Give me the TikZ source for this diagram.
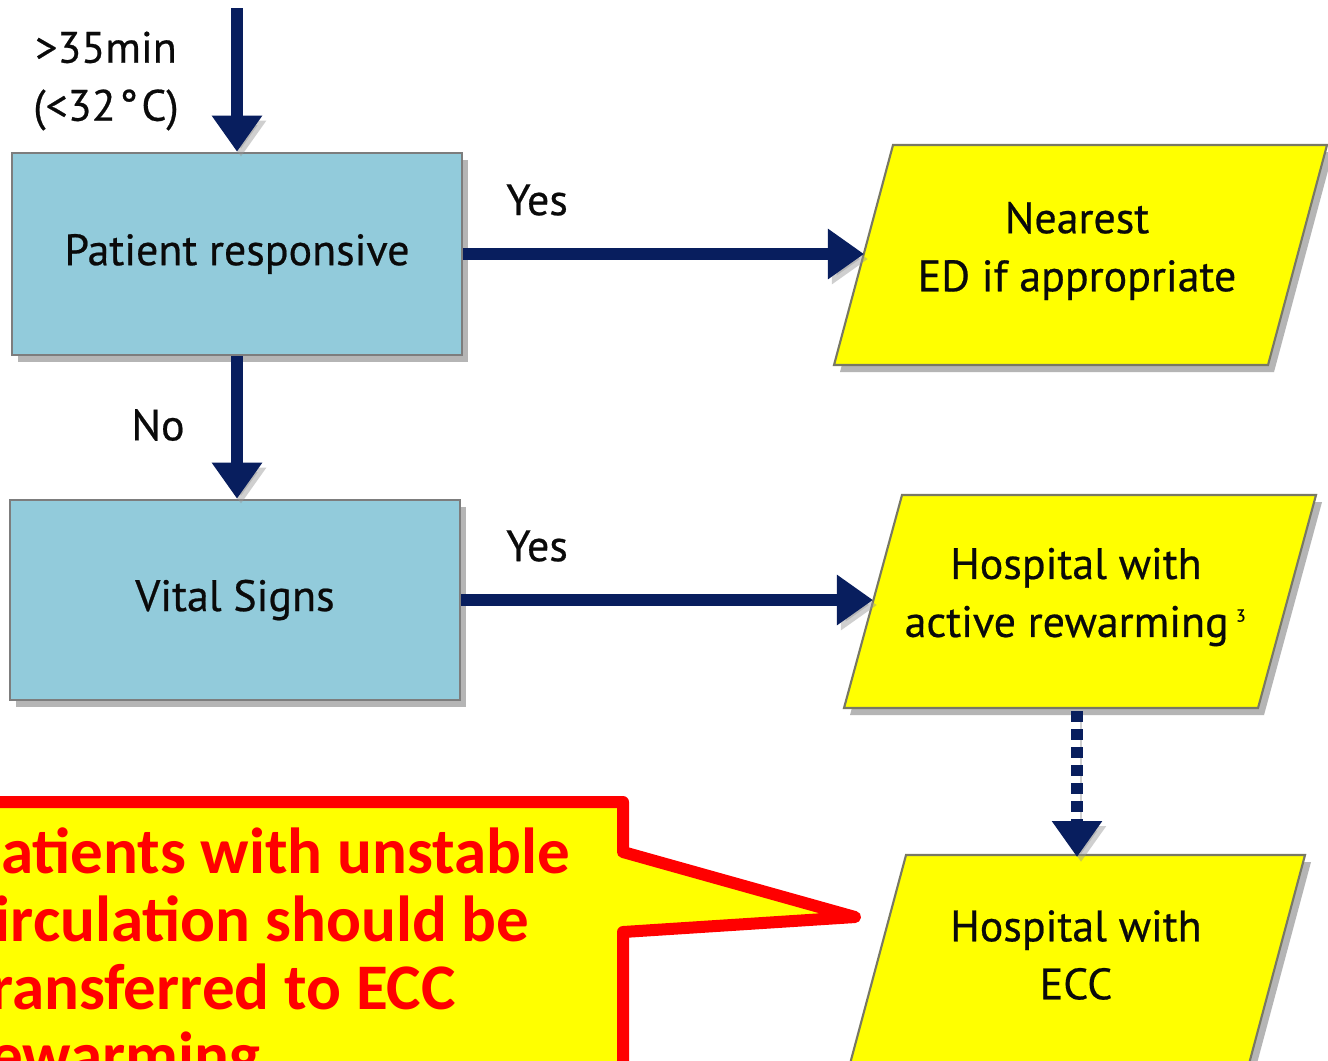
\documentclass[tikz,border=0pt]{standalone}
\usepackage{fontspec}
\setmainfont{PT Sans}[FakeBold=0.5]
\newfontfamily\calloutfont{Carlito}
\usetikzlibrary{arrows.meta,shadows}
\definecolor{navy}{RGB}{8,30,94}
\definecolor{boxblue}{RGB}{146,203,219}
\definecolor{boxline}{RGB}{125,125,125}
\definecolor{yel}{RGB}{255,255,0}
\definecolor{paraline}{RGB}{120,120,100}
\definecolor{shadowc}{RGB}{150,150,150}
\definecolor{txt}{RGB}{10,10,10}
\definecolor{calred}{RGB}{255,0,0}
\begin{document}
\begin{tikzpicture}[x=0.01cm,y=-0.01cm,
  every node/.style={text=txt, font=\fontsize{12.5}{16.5}\selectfont},
  bluebox/.style={draw=boxline, line width=0.7pt, fill=boxblue, minimum width=4.5cm, minimum height=2.02cm,
    drop shadow={shadow xshift=0.06cm, shadow yshift=-0.07cm, fill=shadowc, opacity=0.7}},
  arrowshadow/.style={preaction={draw=shadowc, opacity=0.45, transform canvas={shift={(0.04cm,-0.05cm)}}}},
  flow/.style={draw=navy, line width=0.12cm, -{Triangle[width=0.48cm,length=0.36cm]}, arrowshadow},
  dottedflow/.style={flow, dash pattern=on 0.11cm off 0.07cm},
  para/.style={draw=paraline, line width=0.6pt, fill=yel},
  parashadow/.style={fill=shadowc, opacity=0.7},
  callout/.style={draw=calred, fill=yel, line width=0.12cm, line join=round}]

\fill[white] (0,0) rectangle (1328,1060);
\useasboundingbox (0,0) rectangle (1328,1060);
\clip (0,0) rectangle (1328,1060);

% blue decision boxes
\node[bluebox] (b1) at (237,254) {Patient responsive};
\node[bluebox, minimum height=2cm] (b2) at (235,600) {Vital Signs};

% parallelogram 1
\fill[parashadow] (899,152) -- (1333,152) -- (1274,372) -- (840,372) -- cycle;
\draw[para] (893,145) -- (1327,145) -- (1268,365) -- (834,365) -- cycle;
\node[align=center] (t1) at (1077,251) {Nearest\\ED if appropriate};
\coordinate (p1in) at (864,254);

% parallelogram 2
\fill[parashadow] (908,502) -- (1322,502) -- (1264,715) -- (850,715) -- cycle;
\draw[para] (902,495) -- (1316,495) -- (1258,708) -- (844,708) -- cycle;
\node[align=center] (t2) at (1076,597) {Hospital with\\active rewarming\,\textsuperscript{\tiny 3}};
\coordinate (p2in) at (873,600);
\coordinate (p2out) at (1077,711);

% parallelogram 3
\fill[parashadow] (912,862) -- (1311,862) -- (1252,1082) -- (853,1082) -- cycle;
\draw[para] (906,855) -- (1305,855) -- (1246,1075) -- (847,1075) -- cycle;
\node[align=center] (t3) at (1076,955) {Hospital with\\ECC};
\coordinate (p3in) at (1077,857);

% connectors
\coordinate (start) at (237,8);
\draw[flow] (start) -- (b1.north);
\draw[flow] (b1.east) -- (p1in);
\draw[flow] (b1.south) -- (b1.south |- b2.north);
\draw[flow] (b2.east) -- (p2in);
\draw[dottedflow] (p2out) -- (p3in);

% labels
\node[align=center] (temp) at (106,81) {>35min\\(<32\kern1pt°\kern1pt C)};
\node (yes1) at (537,200) {Yes};
\node (yes2) at (537,546) {Yes};
\node (no) at (158,425) {No};

% callout
\draw[callout] (-30,802) -- (623,802) -- (623,852) -- (855,917) -- (623,932) -- (623,1090) -- (-30,1090) -- cycle;
\node[anchor=north west, inner sep=0pt, align=left, text=calred,
  font=\calloutfont\bfseries\fontsize{18.5}{19.3}\selectfont] (note) at (-33,827)
  {Patients with unstable\\circulation should be\\transferred to ECC\\rewarming};
\end{tikzpicture}
\end{document}
